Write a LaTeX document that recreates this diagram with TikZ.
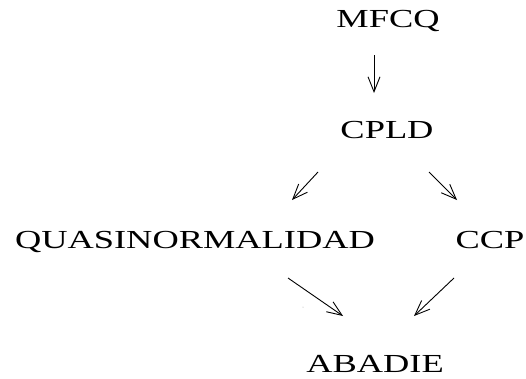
\documentclass[tikz,border=0pt]{standalone}
\usepackage{fontspec}
\newfontfamily\labfont[FakeStretch=1.4]{Liberation Serif}
\usetikzlibrary{arrows.meta}
\begin{document}
\begin{tikzpicture}[x=1pt,y=-1pt,
  lab/.style={inner sep=0pt,anchor=base,font=\labfont\fontsize{26}{30}\selectfont},
  imp/.style={-{Straight Barb[length=15pt,width=12pt]},line width=0.9pt}]
\useasboundingbox (0,0) rectangle (526,378);
\node[lab] (mfcq) at (388,27) {MFCQ};
\node[lab] (cpld) at (387,138) {CPLD};
\node[lab] (quasi) at (195,248) {QUASINORMALIDAD};
\node[lab] (ccp) at (490,248) {CCP};
\node[lab] (abadie) at (375,372) {ABADIE};
\coordinate (a1) at (374,55);
\coordinate (a2) at (374,93);
\coordinate (b1) at (318,172);
\coordinate (b2) at (292,200);
\coordinate (c1) at (429,172);
\coordinate (c2) at (457,200);
\coordinate (d1) at (288,278);
\coordinate (d2) at (343,316);
\coordinate (e1) at (454,278);
\coordinate (e2) at (414,316);
\draw[imp] (a1) -- (a2);
\draw[imp] (b1) -- (b2);
\draw[imp] (c1) -- (c2);
\draw[imp] (d1) -- (d2);
\draw[imp] (e1) -- (e2);
\fill[gray!70] (303,307) circle (0.5);
\end{tikzpicture}
\end{document}
